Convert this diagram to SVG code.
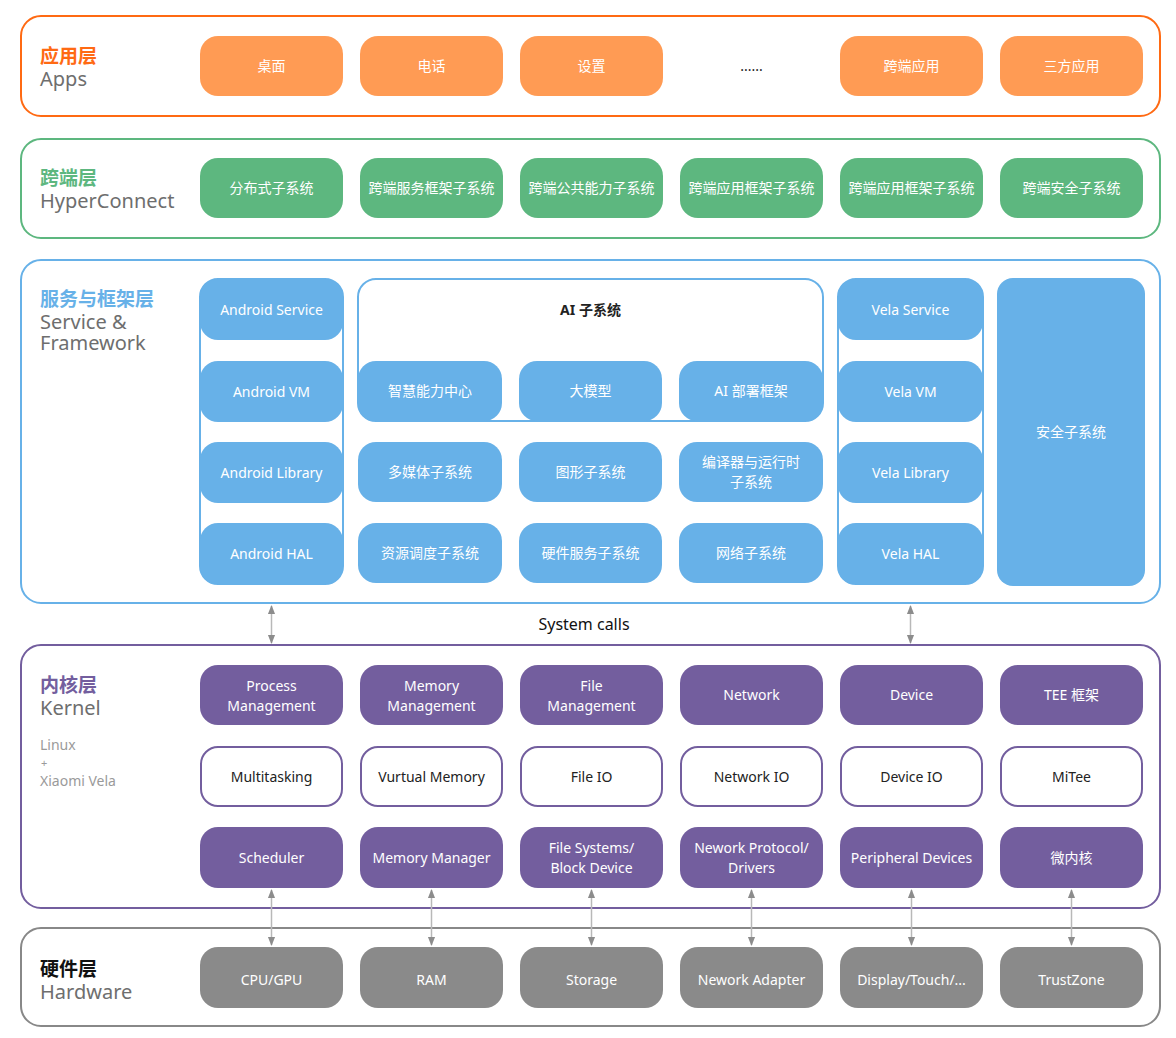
<svg xmlns="http://www.w3.org/2000/svg" width="1176" height="1038" viewBox="0 0 1176 1038">
<defs>
<style>
text{font-family:"Noto Sans","Noto Sans CJK SC",sans-serif;}
.layer{fill:#fff;stroke-width:2;}
.bt{font-size:14px;fill:#fff;text-anchor:middle;}
.dt{font-size:14px;fill:#222;text-anchor:middle;}
.lc{font-size:19px;font-weight:bold;font-family:"Noto Sans CJK SC","Noto Sans",sans-serif;}
.le{font-size:20px;fill:#6e6e6e;}
.app{fill:#FF9B54;}
.hc{fill:#5DB77F;}
.sv{fill:#67B1E8;}
.kn{fill:#735E9E;}
.kw{fill:#fff;stroke:#735E9E;stroke-width:2;}
.hw{fill:#8A8A8A;}
.conn{stroke:#b8b8b8;stroke-width:1.5;fill:none;marker-start:url(#ah);marker-end:url(#ah);}
</style>
<marker id="ah" viewBox="0 0 10 10" refX="9" refY="5" markerWidth="9" markerHeight="9" orient="auto-start-reverse" markerUnits="userSpaceOnUse">
<path d="M0,1 L10,5 L0,9 z" fill="#8c8c8c"/>
</marker>
</defs>

<!-- Apps layer -->
<g id="layer-apps">
<rect class="layer" x="21" y="16" width="1139" height="100" rx="20" stroke="#FF6A13"/>
<text class="lc" x="40" y="63" fill="#FF6A13">应用层</text>
<text class="le" x="40" y="86">Apps</text>
</g>
<g id="app-desktop"><rect class="app" x="200" y="36" width="143" height="60" rx="18"/><text class="bt" x="271.5" y="71">桌面</text></g>
<g id="app-phone"><rect class="app" x="360" y="36" width="143" height="60" rx="18"/><text class="bt" x="431.5" y="71">电话</text></g>
<g id="app-settings"><rect class="app" x="520" y="36" width="143" height="60" rx="18"/><text class="bt" x="591.5" y="71">设置</text></g>
<g id="app-more"><text class="dt" x="751.5" y="71">......</text></g>
<g id="app-cross"><rect class="app" x="840" y="36" width="143" height="60" rx="18"/><text class="bt" x="911.5" y="71">跨端应用</text></g>
<g id="app-third"><rect class="app" x="1000" y="36" width="143" height="60" rx="18"/><text class="bt" x="1071.5" y="71">三方应用</text></g>

<!-- HyperConnect layer -->
<g id="layer-hyperconnect">
<rect class="layer" x="21" y="139" width="1139" height="99" rx="20" stroke="#5DB77F"/>
<text class="lc" x="40" y="185" fill="#5DB77F">跨端层</text>
<text class="le" x="40" y="208">HyperConnect</text>
</g>
<g id="hc-1"><rect class="hc" x="200" y="158" width="143" height="60" rx="18"/><text class="bt" x="271.5" y="193">分布式子系统</text></g>
<g id="hc-2"><rect class="hc" x="360" y="158" width="143" height="60" rx="18"/><text class="bt" x="431.5" y="193">跨端服务框架子系统</text></g>
<g id="hc-3"><rect class="hc" x="520" y="158" width="143" height="60" rx="18"/><text class="bt" x="591.5" y="193">跨端公共能力子系统</text></g>
<g id="hc-4"><rect class="hc" x="680" y="158" width="143" height="60" rx="18"/><text class="bt" x="751.5" y="193">跨端应用框架子系统</text></g>
<g id="hc-5"><rect class="hc" x="840" y="158" width="143" height="60" rx="18"/><text class="bt" x="911.5" y="193">跨端应用框架子系统</text></g>
<g id="hc-6"><rect class="hc" x="1000" y="158" width="143" height="60" rx="18"/><text class="bt" x="1071.5" y="193">跨端安全子系统</text></g>

<!-- Service & Framework layer -->
<g id="layer-service">
<rect class="layer" x="21" y="260" width="1139" height="343" rx="20" stroke="#67B1E8"/>
<text class="lc" x="40" y="306" fill="#67B1E8">服务与框架层</text>
<text class="le" x="40" y="329">Service &amp;</text>
<text class="le" x="40" y="350">Framework</text>
</g>
<g id="android-stack">
<rect x="200" y="279" width="143" height="305" rx="18" fill="#fff" stroke="#67B1E8" stroke-width="2"/>
<rect class="sv" x="200" y="279" width="143" height="61" rx="18"/><text class="bt" x="271.5" y="315">Android Service</text>
<rect class="sv" x="200" y="361" width="143" height="61" rx="18"/><text class="bt" x="271.5" y="397">Android VM</text>
<rect class="sv" x="200" y="442" width="143" height="61" rx="18"/><text class="bt" x="271.5" y="478">Android Library</text>
<rect class="sv" x="200" y="523" width="143" height="61" rx="18"/><text class="bt" x="271.5" y="559">Android HAL</text>
</g>
<g id="ai-subsystem">
<rect x="358" y="279" width="465" height="142" rx="18" fill="#fff" stroke="#67B1E8" stroke-width="2"/>
<text class="dt" x="590.5" y="315" font-weight="bold" fill="#111">AI 子系统</text>
<rect class="sv" x="358" y="361" width="144" height="60" rx="18"/><text class="bt" x="430" y="396">智慧能力中心</text>
<rect class="sv" x="519" y="361" width="143" height="60" rx="18"/><text class="bt" x="590.5" y="396">大模型</text>
<rect class="sv" x="679" y="361" width="144" height="60" rx="18"/><text class="bt" x="751" y="396">AI 部署框架</text>
</g>
<g id="sv-media"><rect class="sv" x="358" y="442" width="144" height="60" rx="18"/><text class="bt" x="430" y="477">多媒体子系统</text></g>
<g id="sv-graphics"><rect class="sv" x="519" y="442" width="143" height="60" rx="18"/><text class="bt" x="590.5" y="477">图形子系统</text></g>
<g id="sv-compiler"><rect class="sv" x="679" y="442" width="144" height="60" rx="18"/><text class="bt" x="751" y="467">编译器与运行时</text><text class="bt" x="751" y="487">子系统</text></g>
<g id="sv-resource"><rect class="sv" x="358" y="523" width="144" height="60" rx="18"/><text class="bt" x="430" y="558">资源调度子系统</text></g>
<g id="sv-hwservice"><rect class="sv" x="519" y="523" width="143" height="60" rx="18"/><text class="bt" x="590.5" y="558">硬件服务子系统</text></g>
<g id="sv-network"><rect class="sv" x="679" y="523" width="144" height="60" rx="18"/><text class="bt" x="751" y="558">网络子系统</text></g>
<g id="vela-stack">
<rect x="838" y="279" width="145" height="305" rx="18" fill="#fff" stroke="#67B1E8" stroke-width="2"/>
<rect class="sv" x="838" y="279" width="145" height="61" rx="18"/><text class="bt" x="910.5" y="315">Vela Service</text>
<rect class="sv" x="838" y="361" width="145" height="61" rx="18"/><text class="bt" x="910.5" y="397">Vela VM</text>
<rect class="sv" x="838" y="442" width="145" height="61" rx="18"/><text class="bt" x="910.5" y="478">Vela Library</text>
<rect class="sv" x="838" y="523" width="145" height="61" rx="18"/><text class="bt" x="910.5" y="559">Vela HAL</text>
</g>
<g id="sv-security"><rect class="sv" x="997" y="278" width="148" height="308" rx="16"/><text class="bt" x="1071" y="437">安全子系统</text></g>

<!-- System calls label -->
<g id="syscalls"><text x="584" y="630" font-size="16" fill="#111" text-anchor="middle">System calls</text></g>

<!-- Kernel layer -->
<g id="layer-kernel">
<rect class="layer" x="21" y="645" width="1139" height="263" rx="20" stroke="#735E9E"/>
<text class="lc" x="40" y="692" fill="#735E9E">内核层</text>
<text class="le" x="40" y="715">Kernel</text>
<text x="40" y="750" font-size="14" fill="#9a9a9a">Linux</text>
<text x="41" y="767" font-size="11" fill="#9a9a9a">+</text>
<text x="40" y="786" font-size="14" fill="#9a9a9a">Xiaomi Vela</text>
</g>
<g id="k-process"><rect class="kn" x="200" y="665" width="143" height="60" rx="18"/><text class="bt" x="271.5" y="691">Process</text><text class="bt" x="271.5" y="711">Management</text></g>
<g id="k-memory"><rect class="kn" x="360" y="665" width="143" height="60" rx="18"/><text class="bt" x="431.5" y="691">Memory</text><text class="bt" x="431.5" y="711">Management</text></g>
<g id="k-file"><rect class="kn" x="520" y="665" width="143" height="60" rx="18"/><text class="bt" x="591.5" y="691">File</text><text class="bt" x="591.5" y="711">Management</text></g>
<g id="k-network"><rect class="kn" x="680" y="665" width="143" height="60" rx="18"/><text class="bt" x="751.5" y="700">Network</text></g>
<g id="k-device"><rect class="kn" x="840" y="665" width="143" height="60" rx="18"/><text class="bt" x="911.5" y="700">Device</text></g>
<g id="k-tee"><rect class="kn" x="1000" y="665" width="143" height="60" rx="18"/><text class="bt" x="1071.5" y="700">TEE 框架</text></g>

<g id="k-multitasking"><rect class="kw" x="201" y="747" width="141" height="59" rx="17"/><text class="dt" x="271.5" y="782">Multitasking</text></g>
<g id="k-vmem"><rect class="kw" x="361" y="747" width="141" height="59" rx="17"/><text class="dt" x="431.5" y="782">Vurtual Memory</text></g>
<g id="k-fileio"><rect class="kw" x="521" y="747" width="141" height="59" rx="17"/><text class="dt" x="591.5" y="782">File IO</text></g>
<g id="k-netio"><rect class="kw" x="681" y="747" width="141" height="59" rx="17"/><text class="dt" x="751.5" y="782">Network IO</text></g>
<g id="k-devio"><rect class="kw" x="841" y="747" width="141" height="59" rx="17"/><text class="dt" x="911.5" y="782">Device IO</text></g>
<g id="k-mitee"><rect class="kw" x="1001" y="747" width="141" height="59" rx="17"/><text class="dt" x="1071.5" y="782">MiTee</text></g>

<g id="k-scheduler"><rect class="kn" x="200" y="827" width="143" height="61" rx="18"/><text class="bt" x="271.5" y="863">Scheduler</text></g>
<g id="k-memmgr"><rect class="kn" x="360" y="827" width="143" height="61" rx="18"/><text class="bt" x="431.5" y="863">Memory Manager</text></g>
<g id="k-fs"><rect class="kn" x="520" y="827" width="143" height="61" rx="18"/><text class="bt" x="591.5" y="853">File Systems/</text><text class="bt" x="591.5" y="873">Block Device</text></g>
<g id="k-netproto"><rect class="kn" x="680" y="827" width="143" height="61" rx="18"/><text class="bt" x="751.5" y="853">Nework Protocol/</text><text class="bt" x="751.5" y="873">Drivers</text></g>
<g id="k-periph"><rect class="kn" x="840" y="827" width="143" height="61" rx="18"/><text class="bt" x="911.5" y="863">Peripheral Devices</text></g>
<g id="k-micro"><rect class="kn" x="1000" y="827" width="143" height="61" rx="18"/><text class="bt" x="1071.5" y="863">微内核</text></g>

<!-- Hardware layer -->
<g id="layer-hardware">
<rect class="layer" x="21" y="928" width="1139" height="98" rx="20" stroke="#888"/>
<text class="lc" x="40" y="976" fill="#111">硬件层</text>
<text class="le" x="40" y="999">Hardware</text>
</g>
<g id="hw-cpu"><rect class="hw" x="200" y="947" width="143" height="61" rx="18"/><text class="bt" x="271.5" y="985">CPU/GPU</text></g>
<g id="hw-ram"><rect class="hw" x="360" y="947" width="143" height="61" rx="18"/><text class="bt" x="431.5" y="985">RAM</text></g>
<g id="hw-storage"><rect class="hw" x="520" y="947" width="143" height="61" rx="18"/><text class="bt" x="591.5" y="985">Storage</text></g>
<g id="hw-netadapter"><rect class="hw" x="680" y="947" width="143" height="61" rx="18"/><text class="bt" x="751.5" y="985">Nework Adapter</text></g>
<g id="hw-display"><rect class="hw" x="840" y="947" width="143" height="61" rx="18"/><text class="bt" x="911.5" y="985">Display/Touch/...</text></g>
<g id="hw-trustzone"><rect class="hw" x="1000" y="947" width="143" height="61" rx="18"/><text class="bt" x="1071.5" y="985">TrustZone</text></g>

<!-- Connectors -->
<g id="connectors">
<line class="conn" x1="271.5" y1="606" x2="271.5" y2="643"/>
<line class="conn" x1="910.5" y1="606" x2="910.5" y2="643"/>
<line class="conn" x1="271.5" y1="890" x2="271.5" y2="945"/>
<line class="conn" x1="431.5" y1="890" x2="431.5" y2="945"/>
<line class="conn" x1="591.5" y1="890" x2="591.5" y2="945"/>
<line class="conn" x1="751.5" y1="890" x2="751.5" y2="945"/>
<line class="conn" x1="911.5" y1="890" x2="911.5" y2="945"/>
<line class="conn" x1="1071.5" y1="890" x2="1071.5" y2="945"/>
</g>
</svg>
